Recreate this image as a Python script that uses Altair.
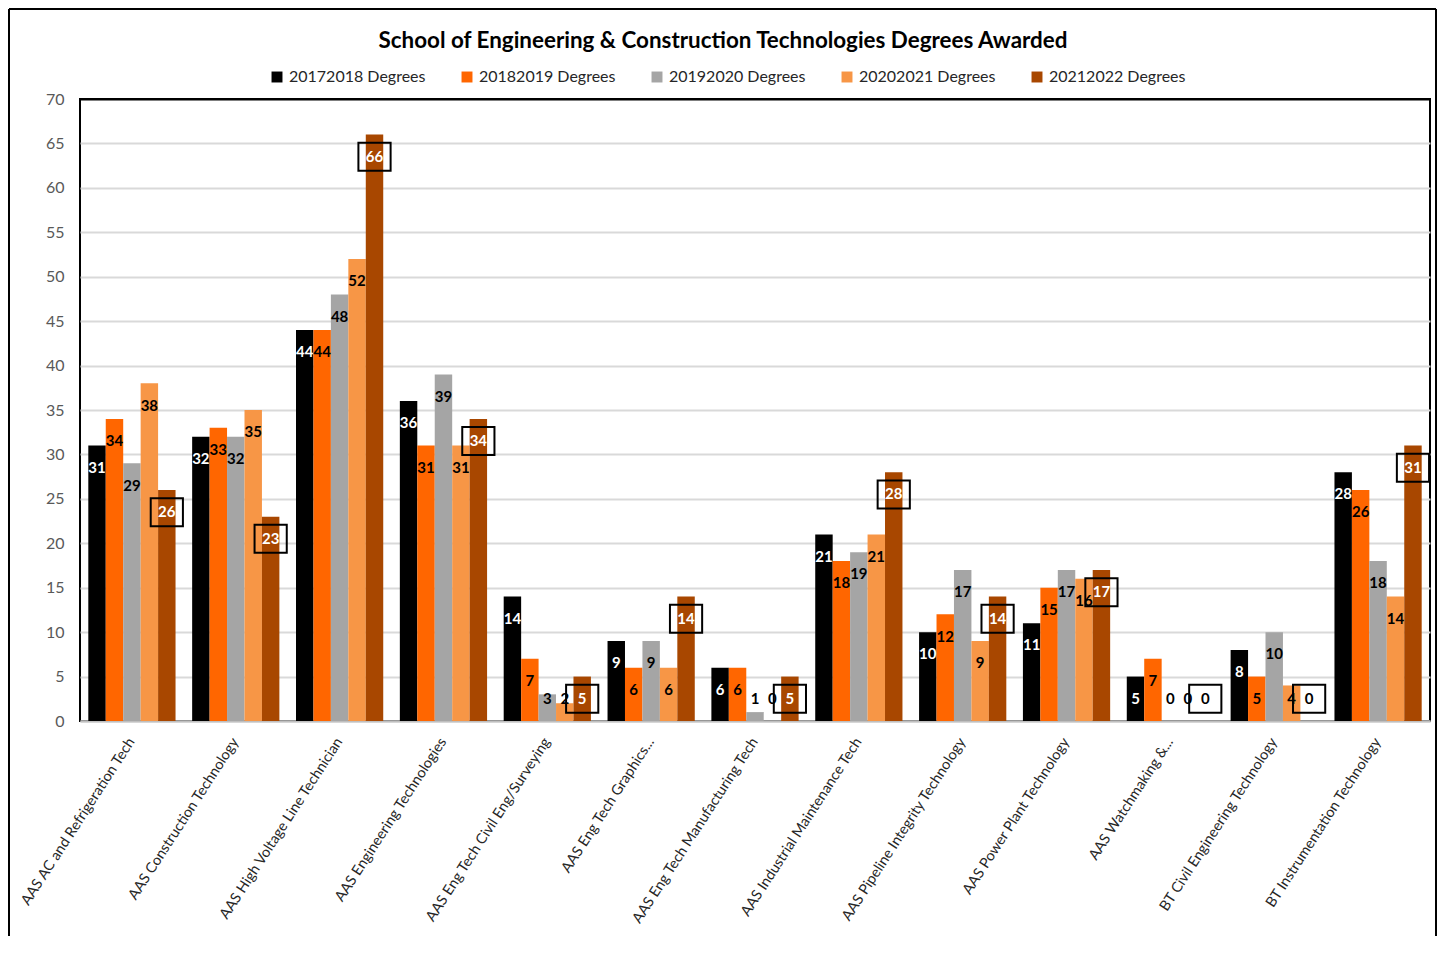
import altair as alt
import pandas as pd

categories = [
    "AAS AC and Refrigeration Tech",
    "AAS Construction Technology",
    "AAS High Voltage Line Technician",
    "AAS Engineering Technologies",
    "AAS Eng Tech Civil Eng/Surveying",
    "AAS Eng Tech Graphics...",
    "AAS Eng Tech Manufacturing Tech",
    "AAS Industrial Maintenance Tech",
    "AAS Pipeline Integrity Technology",
    "AAS Power Plant Technology",
    "AAS Watchmaking &...",
    "BT Civil Engineering Technology",
    "BT Instrumentation Technology",
]
series = ["20172018 Degrees", "20182019 Degrees", "20192020 Degrees",
          "20202021 Degrees", "20212022 Degrees"]
v2017 = [31, 32, 44, 36, 14, 9, 6, 21, 10, 11, 5, 8, 28]
v2018 = [34, 33, 44, 31, 7, 6, 6, 18, 12, 15, 7, 5, 26]
v2019 = [29, 32, 48, 39, 3, 9, 1, 19, 17, 17, 0, 10, 18]
v2020 = [38, 35, 52, 31, 2, 6, 0, 21, 9, 16, 0, 4, 14]
v2021 = [26, 23, 66, 34, 5, 14, 5, 28, 14, 17, 0, 0, 31]
colors = ["#000000", "#FF6600", "#A5A5A5", "#F79646", "#A84700"]
y_ticks = list(range(0, 71, 5))

rows = []
for s, vals in zip(series, [v2017, v2018, v2019, v2020, v2021]):
    for c, v in zip(categories, vals):
        rows.append({"category": c, "series": s, "value": v})
df = pd.DataFrame(rows)

FONT = "Lato"

base = alt.Chart(df).encode(
    x=alt.X("category:N", sort=categories, title=None,
            scale=alt.Scale(paddingInner=0.16, paddingOuter=0.08),
            axis=alt.Axis(labelAngle=303, labelFontSize=14.5, labelColor="#262626",
                          labelFont=FONT, labelPadding=18, labelLimit=400,
                          ticks=False, domainColor="#BFBFBF", domainWidth=2)),
    xOffset=alt.XOffset("series:N", sort=series,
                        scale=alt.Scale(paddingInner=0, paddingOuter=0)),
)

yscale = alt.Scale(domain=[0, 70], nice=False)

bars = base.mark_bar().encode(
    y=alt.Y("value:Q", scale=yscale, title=None,
            axis=alt.Axis(values=y_ticks, grid=True,
                          gridColor={"condition": {"test": "datum.value == 70", "value": "black"},
                                     "value": "#D9D9D9"},
                          gridWidth=2, domain=False, ticks=False,
                          labelFontSize=16, labelColor="#595959", labelFont=FONT,
                          labelPadding=16)),
    color=alt.Color("series:N", sort=series,
                    scale=alt.Scale(domain=series, range=colors),
                    legend=alt.Legend(orient="none", legendX=189, legendY=-30,
                                      direction="horizontal", columns=5, title=None,
                                      symbolType="square", symbolSize=120,
                                      symbolStrokeWidth=0, labelFontSize=16,
                                      labelFont=FONT, labelColor="#262626",
                                      labelOffset=4, columnPadding=33)),
)

labels = base.transform_calculate(
    ly="max(datum.value - 2.5, 2.5)"
).mark_text(fontSize=15, fontWeight="bold", font=FONT, baseline="middle").encode(
    y=alt.Y("ly:Q", scale=yscale),
    text="value:Q",
    color=alt.condition(
        "datum.series == '20172018 Degrees' || (datum.series == '20212022 Degrees' && datum.value > 0)",
        alt.value("white"), alt.value("black")),
)

boxes = base.transform_filter(
    alt.datum.series == "20212022 Degrees"
).transform_calculate(
    ly="max(datum.value - 2.5, 2.5)"
).mark_point(shape="M-1.15,-1L1.15,-1L1.15,1L-1.15,1Z", filled=False,
             color="black", strokeWidth=2, size=784, opacity=1).encode(
    y=alt.Y("ly:Q", scale=yscale),
)

frame_left = alt.Chart(df).mark_rule(color="black", strokeWidth=1.5, clip=False).encode(
    x=alt.value(-71), y=alt.value(-90), y2=alt.value(860))
frame_top = alt.Chart(df).mark_rule(color="black", strokeWidth=1.5, clip=False).encode(
    x=alt.value(-71), x2=alt.value(1356), y=alt.value(-90))
frame_right = alt.Chart(df).mark_rule(color="black", strokeWidth=1.5, clip=False).encode(
    x=alt.value(1356), y=alt.value(-90), y2=alt.value(860))

chart = alt.layer(bars, labels, boxes, frame_left, frame_top, frame_right).properties(
    width=1350, height=622,
    title=alt.Title("School of Engineering & Construction Technologies Degrees Awarded",
                    font=FONT, fontSize=22.4, fontWeight="bold", color="black",
                    anchor="middle", dx=-32, offset=-44),
    autosize=alt.AutoSizeParams(type="none"),
    padding={"left": 72, "top": 91, "right": 7, "bottom": 215},
).configure_view(stroke="black", strokeWidth=2)

chart.save("out.html", embed_options={"renderer": "svg", "actions": False})
